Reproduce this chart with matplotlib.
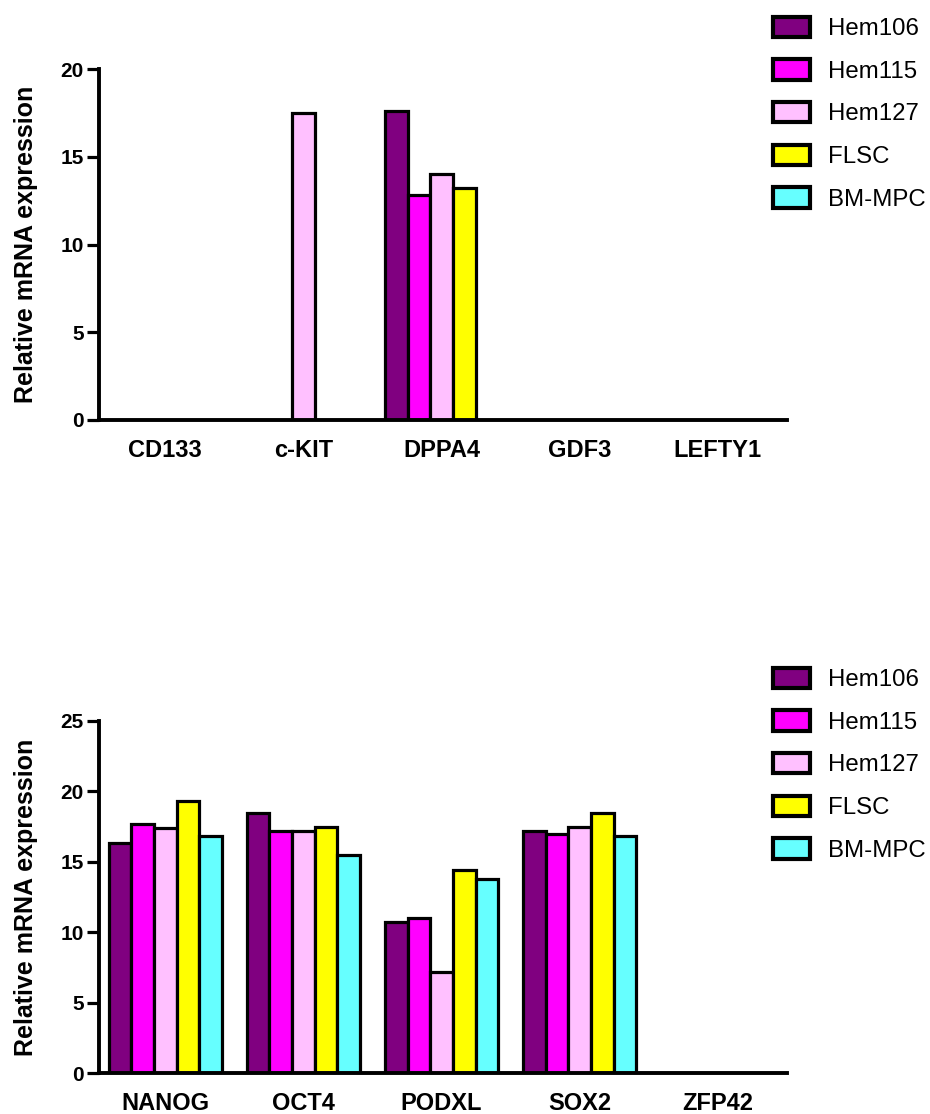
import numpy as np
import matplotlib
matplotlib.use('Agg')
import matplotlib.pyplot as plt
import matplotlib.patches as mpatches

plt.rcParams['font.family'] = ['Liberation Sans', 'DejaVu Sans']

SERIES = ['Hem106', 'Hem115', 'Hem127', 'FLSC', 'BM-MPC']
COLORS = ['#800080', '#FF00FF', '#FFC0FF', '#FFFF00', '#66FFFF']

GENES_TOP = ['CD133', 'c-KIT', 'DPPA4', 'GDF3', 'LEFTY1']
TOP_VALUES = {
    'Hem106': [0, 0, 17.6, 0, 0],
    'Hem115': [0, 0, 12.8, 0, 0],
    'Hem127': [0, 17.5, 14.0, 0, 0],
    'FLSC':   [0, 0, 13.2, 0, 0],
    'BM-MPC': [0, 0, 0, 0, 0],
}

GENES_BOT = ['NANOG', 'OCT4', 'PODXL', 'SOX2', 'ZFP42']
BOT_VALUES = {
    'Hem106': [16.3, 18.5, 10.7, 17.2, 0],
    'Hem115': [17.7, 17.2, 11.0, 17.0, 0],
    'Hem127': [17.4, 17.2, 7.2, 17.5, 0],
    'FLSC':   [19.3, 17.5, 14.4, 18.5, 0],
    'BM-MPC': [16.8, 15.5, 13.8, 16.8, 0],
}

EDGE_LW = 2.3
BAR_W = 0.164


def draw_panel(ax, genes, values, ymax, yticks):
    x = np.arange(len(genes))
    for i, s in enumerate(SERIES):
        offs = (i - 2) * BAR_W
        h = np.array(values[s], dtype=float)
        keep = h > 0
        ax.bar(x[keep] + offs, h[keep], width=BAR_W, color=COLORS[i],
               edgecolor='black', linewidth=EDGE_LW, zorder=2)
    ax.set_xlim(-0.48, 4.5)
    ax.set_ylim(0, ymax)
    ax.set_yticks(yticks)
    ax.set_yticklabels([str(t) for t in yticks], fontsize=15, fontweight='bold')
    ax.set_xticks(x)
    ax.set_xticklabels(genes, fontsize=17, fontweight='bold')
    ax.tick_params(axis='x', length=0, pad=14)
    ax.tick_params(axis='y', length=9, width=2.3, pad=2, direction='out')
    ax.spines[['top', 'right']].set_visible(False)
    for sp in ['left', 'bottom']:
        ax.spines[sp].set_linewidth(2.8)
    ax.set_ylabel('Relative mRNA expression', fontsize=18, fontweight='bold',
                  labelpad=16)


fig = plt.figure(figsize=(9.3, 11.14), dpi=100)
ax1 = fig.add_axes([0.1065, 0.623, 0.7395, 0.315])
ax2 = fig.add_axes([0.1065, 0.0368, 0.7395, 0.316])

draw_panel(ax1, GENES_TOP, TOP_VALUES, 20, [0, 5, 10, 15, 20])
draw_panel(ax2, GENES_BOT, BOT_VALUES, 25, [0, 5, 10, 15, 20, 25])

handles = [mpatches.Patch(facecolor=c, edgecolor='black', linewidth=3, label=s)
           for s, c in zip(SERIES, COLORS)]
for anchor_y in [1.0 - 12 / 1114, 1.0 - 663 / 1114]:
    fig.legend(handles=handles, loc='upper left',
               bbox_to_anchor=(768 / 930, anchor_y), frameon=False,
               fontsize=17.3, handlelength=1.54, handleheight=0.92,
               labelspacing=0.8, handletextpad=0.75, borderaxespad=0,
               borderpad=0.2)

plt.savefig('out.png', dpi=100)
